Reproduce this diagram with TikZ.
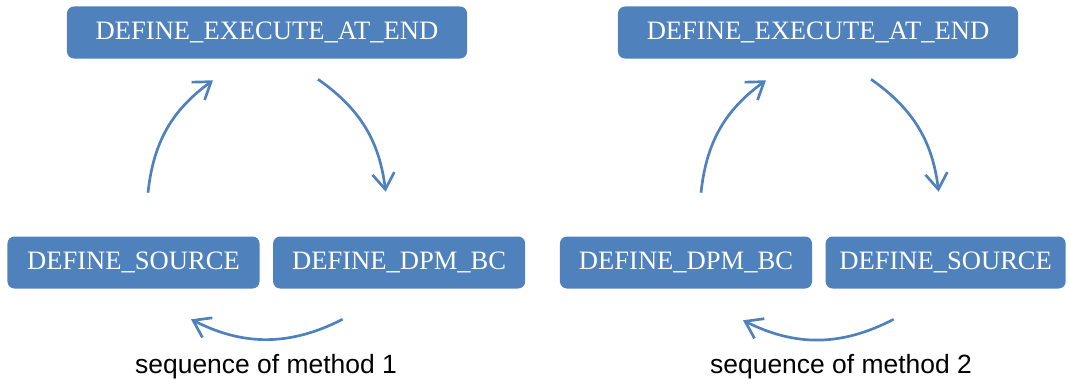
\documentclass[tikz,border=0pt]{standalone}
\usepackage{fontspec}
\setmainfont{Liberation Serif}
\newfontfamily\captionfont{Liberation Sans}
\usetikzlibrary{arrows.meta,positioning}
\definecolor{stepblue}{HTML}{4F81BD}
\tikzset{
  defbox/.style={
    fill=stepblue,
    rounded corners=5pt,
    minimum height=1.3cm,
    inner sep=0pt,
    text=white,
    font=\fontsize{18.9}{22}\selectfont
  },
  widebox/.style={minimum width=10cm},
  narrowbox/.style={minimum width=6.3cm},
  flow/.style={-{Straight Barb[length=0.4cm,width=0.55cm]}, line width=1.9pt, draw=stepblue},
  seqlabel/.style={font=\captionfont\fontsize{18.8}{22}\selectfont, anchor=base}
}

\begin{document}
\begin{tikzpicture}[x=0.025cm, y=-0.025cm, node distance=0.325cm]
  \useasboundingbox (0,0) rectangle (1069,383);

  % method 1
  \node[defbox, widebox] (exec1) at (267,32.5) {DEFINE\_EXECUTE\_AT\_END};
  \node[defbox, narrowbox] (src1) at (133.5,262.5) {DEFINE\_SOURCE};
  \node[defbox, narrowbox, right=of src1] (dpm1) {DEFINE\_DPM\_BC};
  \node[seqlabel] (seq1) at (266,373.5) {sequence of method 1};

  \draw[flow] ([shift={(14.5,-43.5)}]src1.north) to[bend left=24] ([shift={(-54,21.5)}]exec1.south);
  \draw[flow] ([shift={(51,20.5)}]exec1.south) to[bend left=24] ([shift={(-13.5,-44.5)}]dpm1.north);
  \draw[flow] ([shift={(-56.5,30.5)}]dpm1.south) to[bend left=27] ([shift={(57.5,30.5)}]src1.south);

  % method 2
  \node[defbox, widebox] (exec2) at (818,32.5) {DEFINE\_EXECUTE\_AT\_END};
  \node[defbox, narrowbox] (dpm2) at (686,262.5) {DEFINE\_DPM\_BC};
  \node[defbox, narrowbox, minimum width=6cm, right=of dpm2] (src2) {DEFINE\_SOURCE};
  \node[seqlabel] (seq2) at (841,373.5) {sequence of method 2};

  \draw[flow] ([shift={(15,-43.5)}]dpm2.north) to[bend left=24] ([shift={(-52,21.5)}]exec2.south);
  \draw[flow] ([shift={(53,20.5)}]exec2.south) to[bend left=24] ([shift={(-7,-44.5)}]src2.north);
  \draw[flow] ([shift={(-52,30.5)}]src2.south) to[bend left=27] ([shift={(57,31.5)}]dpm2.south);
\end{tikzpicture}
\end{document}
